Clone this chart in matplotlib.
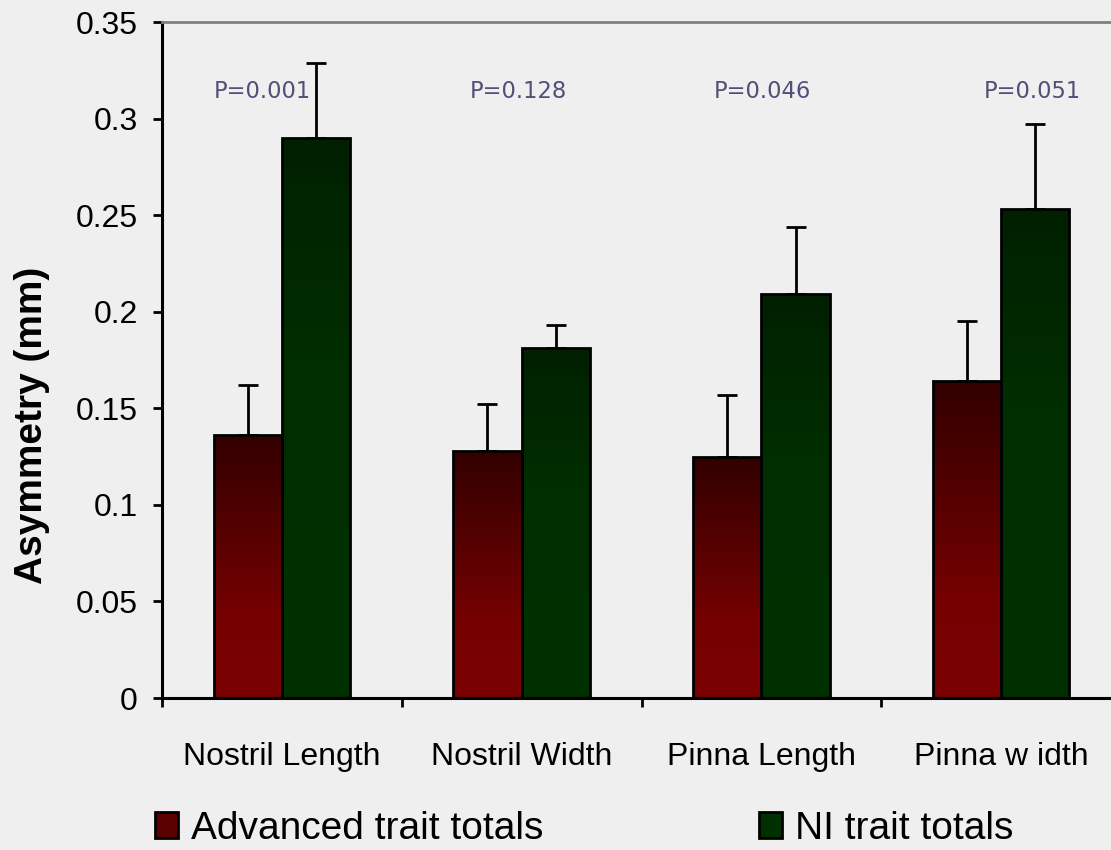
import numpy as np
import matplotlib.pyplot as plt
from matplotlib.colors import LinearSegmentedColormap
from matplotlib.patches import Patch

# datos
categorias = ["Nostril Length", "Nostril Width", "Pinna Length", "Pinna w idth"]
avanzado = [0.136, 0.128, 0.125, 0.164]
avanzado_err = [0.026, 0.024, 0.032, 0.031]
ni = [0.290, 0.181, 0.209, 0.253]
ni_err = [0.039, 0.012, 0.035, 0.044]
p_valores = ["P=0.001", "P=0.128", "P=0.046", "P=0.051"]
p_desplaz = [-0.083, -0.012, 0.004, 0.13]
y_ticks = [0, 0.05, 0.1, 0.15, 0.2, 0.25, 0.3, 0.35]
y_etiquetas = ["0", "0.05", "0.1", "0.15", "0.2", "0.25", "0.3", "0.35"]

plt.rcParams["font.family"] = ["Liberation Sans", "DejaVu Sans"]

fondo = "#efefef"
fig = plt.figure(figsize=(11.11, 8.5), dpi=100, facecolor=fondo)
ax = fig.add_axes([162 / 1111, 1 - 698 / 850, 959 / 1111, 676 / 850])
ax.set_facecolor(fondo)

rojo_cmap = LinearSegmentedColormap.from_list(
    "rojo", [(0, "#7a0000"), (0.3, "#760000"), (1, "#320000")])
verde_cmap = LinearSegmentedColormap.from_list(
    "verde", [(0, "#003000"), (0.6, "#002e00"), (1, "#002000")])

x = np.arange(len(categorias))
ancho = 0.285
grad = np.linspace(0, 1, 256).reshape(-1, 1)


def barras_gradiente(pos, vals, errs, cmap):
    bars = ax.bar(pos, vals, ancho, color="none", edgecolor="black",
                  linewidth=2, zorder=3)
    for b in bars:
        x0, w, h = b.get_x(), b.get_width(), b.get_height()
        im = ax.imshow(grad, cmap=cmap, origin="lower", aspect="auto",
                       extent=(x0, x0 + w, 0, h), zorder=2)
        im.set_clip_path(b)
    ax.errorbar(pos, vals, yerr=[np.zeros(len(vals)), errs], fmt="none",
                ecolor="black", elinewidth=2, capsize=7.5, capthick=2,
                zorder=1)


barras_gradiente(x - ancho / 2, avanzado, avanzado_err, rojo_cmap)
barras_gradiente(x + ancho / 2, ni, ni_err, verde_cmap)

for i, txt in enumerate(p_valores):
    ax.text(x[i] + p_desplaz[i], 0.314, txt, ha="center", va="center",
            fontsize=16.3, color="#505078", family="DejaVu Sans")

ax.set_xlim(-0.5, 3.5)
ax.set_ylim(0, 0.35)

ax.set_yticks(y_ticks)
ax.set_yticklabels(y_etiquetas, fontsize=23)
ax.tick_params(axis="y", direction="out", length=6.5, width=2, pad=11)

ax.set_xticks(np.arange(-0.5, 4, 1))
ax.set_xticklabels([])
ax.set_xticks(x, minor=True)
ax.set_xticklabels(categorias, minor=True, fontsize=23)
ax.tick_params(axis="x", which="major", direction="out", length=6.5, width=2)
ax.tick_params(axis="x", which="minor", length=0, pad=32)

for lado in ["left", "bottom"]:
    ax.spines[lado].set_linewidth(2.2)
ax.spines["top"].set_color("#808080")
ax.spines["top"].set_linewidth(2)
ax.spines["right"].set_visible(False)

fig.text(32 / 1111, 1 - 425 / 850, "Asymmetry (mm)", rotation=90,
         ha="center", va="center", fontsize=28, fontweight="bold")

handles = [Patch(facecolor="#5a0000", edgecolor="black", linewidth=2),
           Patch(facecolor="#003000", edgecolor="black", linewidth=2)]
fig.legend(handles, ["Advanced trait totals", "NI trait totals"],
           loc="lower left", bbox_to_anchor=(155 / 1111, 0.004), ncol=2,
           frameon=False, fontsize=28, handlelength=0.6, handleheight=0.65,
           handletextpad=0.32, columnspacing=5.55, borderpad=0,
           borderaxespad=0)

fig.savefig("out.png", dpi=100, facecolor=fondo)
